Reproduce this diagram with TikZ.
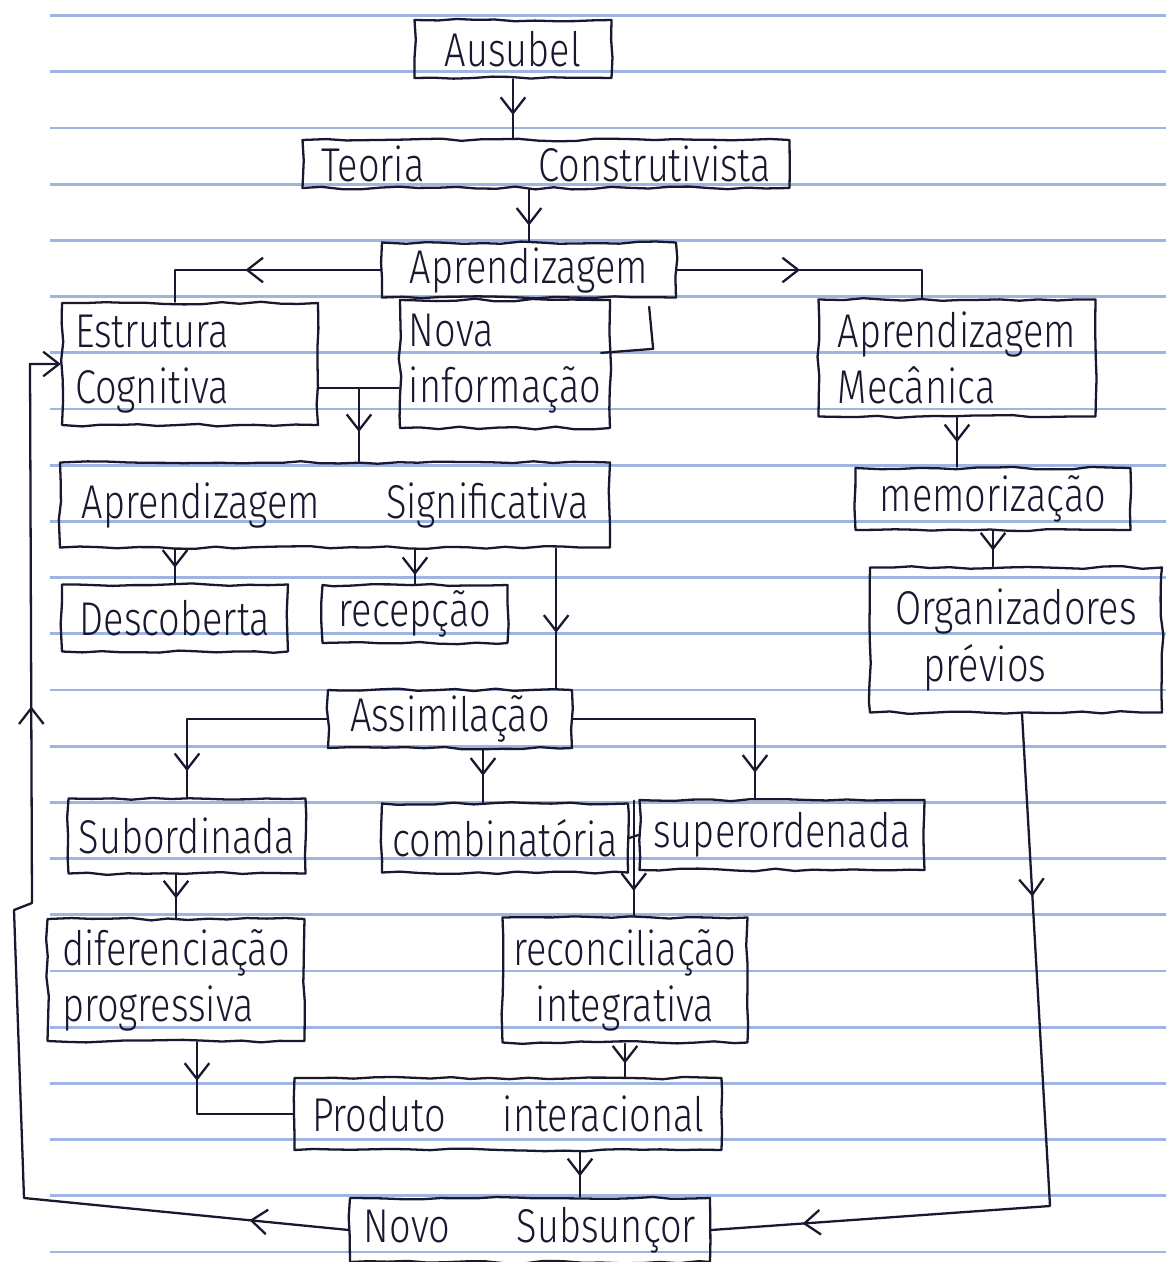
\documentclass[tikz,border=0pt]{standalone}
\usepackage{fontspec}
\setmainfont{Fira Sans}[UprightFont=* Light, FakeStretch=0.8]
\usetikzlibrary{arrows.meta,decorations.pathmorphing,decorations.markings,calc}
\definecolor{ink}{RGB}{24,24,48}
\definecolor{ruling}{RGB}{160,180,226}
\tikzset{
  pen/.style={draw=ink, line width=1.3pt, line join=round, line cap=round},
  hand/.style={decorate, decoration={random steps, segment length=11pt, amplitude=0.8pt}},
  cbox/.style 2 args={pen, hand, minimum width=#1*0.02cm, minimum height=#2*0.02cm,
    inner sep=1pt, text=ink, font=\fontsize{27}{32}\selectfont, align=center},
  >={Straight Barb[length=9pt,width=14pt]},
  tipat/.style={postaction={decorate, decoration={markings, mark=at position #1 with {\arrow{>}}}}},
  ruled/.style={draw=ruling, line width=1.6pt},
}
\begin{document}
\begin{tikzpicture}[x=0.02cm, y=-0.02cm]
\pgfmathsetseed{7}
% sheet and ruling
\fill[white] (0,0) rectangle (1166,1262);
\useasboundingbox (0,0) rectangle (1166,1262);
\foreach \k in {0,...,22} {
  \draw[ruled] (50,{15.5+56.2*\k}) -- (1166,{15.5+56.2*\k});
}

% concepts
\node[cbox={197}{58}] (aus) at (513,49) {Ausubel};
\node[cbox={487}{48}] (teo) at (546,164) {Teoria\hspace{2.4em}Construtivista};
\node[cbox={294}{55}] (apr) at (529,270) {Aprendizagem};
\node[cbox={256}{122}, align=left, text width=4.6cm] (est) at (190,364) {Estrutura\\Cognitiva};
\node[cbox={210}{128}, align=left] (nova) at (505,364) {Nova\\informação};
\node[cbox={277}{117}, align=left] (mec) at (957,358) {Aprendizagem\\Mecânica};
\node[cbox={550}{85}] (sig) at (335,505) {Aprendizagem\hspace{1.4em}Significativa};
\node[cbox={275}{62}] (mem) at (993,499) {memorização};
\node[cbox={226}{67}] (desc) at (175,618) {Descoberta};
\node[cbox={185}{58}] (rec) at (415,614) {recepção};
\node[cbox={292}{145}, align=left] (org) at (1016,640) {Organizadores\\\hspace{0.6em}prévios};
\node[cbox={244}{58}] (ass) at (450,719) {Assimilação};
\node[cbox={237}{75}] (sub) at (187,836) {Subordinada};
\node[cbox={246}{69}] (comb) at (505,838) {combinatória};
\node[cbox={285}{70}] (sup) at (782,835) {superordenada};
\node[cbox={257}{122}, align=left] (dif) at (176,980) {diferenciação\\progressiva};
\node[cbox={245}{125}] (recon) at (625,980) {reconciliação\\integrativa};
\node[cbox={427}{72}] (prod) at (508,1114) {Produto\hspace{1.2em}interacional};
\node[cbox={360}{64}] (novo) at (530,1230) {Novo\hspace{1.4em}Subsunçor};

% links
\draw[pen, tipat=0.6] (aus.south) -- (aus.south |- teo.north);
\draw[pen, tipat=0.7] (teo.south -| apr.north) -- (apr.north);
\draw[pen, tipat=0.57] (apr.west) -| ($(est.north)+(-15,0)$);
\draw[pen, tipat=0.45] (apr.east) -| ($(mec.north)+(-35,0)$);
\draw[pen] ($(nova.north east)+(38,8)$) -- ($(nova.north east)+(42,50)$) -- ($(nova.north east)+(-10,54)$);

\coordinate (jn) at (359,388);
\draw[pen] (est.east |- jn) -- (nova.west |- jn);
\draw[pen, tipat=0.6] (jn) -- (jn |- sig.north);

\draw[pen, tipat=0.5] (mec.south) -- (mec.south |- mem.north);
\draw[pen, tipat=0.55] (mem.south) -- (mem.south |- org.north);

\draw[pen, tipat=0.55] (sig.south -| desc.north) -- (desc.north);
\draw[pen, tipat=0.75] (sig.south -| rec.north) -- (rec.north);
\coordinate (js) at ($(sig.south east)+(-55,0)$);
\draw[pen, tipat=0.6] (js) -- (js |- ass.north);

\draw[pen, tipat=0.88] (ass.west) -| (sub.north);
\draw[pen, tipat=0.5] ($(ass.south)+(33,0)$) -- ($(comb.north)+(-22,0)$);
\draw[pen, tipat=0.9] (ass.east) -| ($(sup.north)+(-27,0)$);
\draw[pen] (comb.east) -- (sup.west);
\coordinate (jc) at ($(comb.north east)!0.5!(sup.north west)$);
\draw[pen, tipat=0.78] (jc) -- (jc |- recon.north);

\draw[pen, tipat=0.55] (sub.south -| dif.north) -- (dif.north);
\draw[pen, tipat=0.6] (recon.south) -- (recon.south |- prod.north);
\draw[pen, tipat=0.23] ($(dif.south)+(21,0)$) |- (prod.west);
\draw[pen, tipat=0.55] ($(prod.south)+(72,0)$) -- ($(novo.north)+(50,0)$);

\coordinate (kr) at (1050,1206);
\draw[pen, tipat=0.22, tipat=0.89] ($(org.south)+(6,0)$) -- (kr) -- (novo.east);

\coordinate (k1) at (24,1198);
\coordinate (k2) at (14,910);
\coordinate (k3) at (32,903);
\coordinate (k4) at (30,364);
\draw[pen, ->, tipat=0.083, tipat=0.69] (novo.west) -- (k1) -- (k2) -- (k3) -- (k4) -- (est.west);
\end{tikzpicture}
\end{document}
